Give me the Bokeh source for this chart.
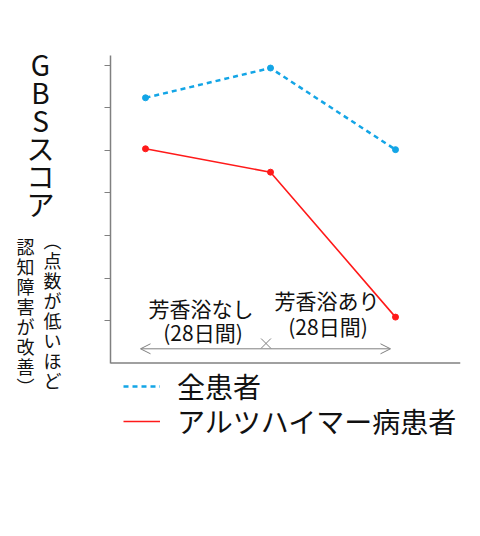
from bokeh.plotting import figure
from bokeh.layouts import row
from bokeh.models import Range1d, FixedTicker, Label, Arrow, OpenHead, Legend, LegendItem, Span
from bokeh.core.properties import value
from bokeh.embed import file_html
from bokeh.resources import INLINE

# data
stages = [0, 1, 2]
all_patients = [6.24, 6.94, 5.02]
alzheimer = [5.04, 4.49, 1.08]
series_names = ["全患者", "アルツハイマー病患者"]
y_title = "GBSスコア"
y_note_right = "︵点数が低いほど"
y_note_left = "認知障害が改善︶"
period_labels = ["芳香浴なし", "芳香浴あり"]
period_days = ["(28日間)", "(28日間)"]

FONT = "Noto Sans CJK JP"
BLUE = "#13a5e6"
RED = "#ff1a1a"
GRAY = "#808080"
INK = "#111111"

TOP = 40  # both frames start here so the row keeps them aligned

# left strip holding the upright, stacked y-axis title (1 unit = 1 px, y down)
t = figure(frame_width=100, frame_height=536 - TOP, min_border=0, min_border_top=TOP,
           title=None, x_range=Range1d(0, 100), y_range=Range1d(536, TOP),
           x_axis_location=None, y_axis_location=None,
           output_backend="svg", toolbar_location=None, tools="")
t.outline_line_color = None
t.grid.grid_line_color = None


def column_text(chars, cx, top, pitch, size):
    t.text([cx] * len(chars), [top + pitch * k for k in range(len(chars))], text=list(chars),
           text_font=value(FONT), text_font_size=size, text_align="center",
           text_baseline="middle", text_color=INK)


column_text(y_title, 40, 63, 28, "28px")
column_text(y_note_right, 52, 239, 20, "18px")
column_text(y_note_left, 25, 245, 20, "18px")

# main chart; the frame runs down to the page bottom so the legend fits inside it
p = figure(frame_width=350, frame_height=536 - TOP, title=None,
           min_border_left=10, min_border_right=20,
           min_border_top=TOP, min_border_bottom=0,
           x_range=Range1d(-0.28, 2.52), y_range=Range1d(-4.082, 7.588),
           x_axis_location=None,
           output_backend="svg", toolbar_location=None, tools="")
p.outline_line_color = None
p.grid.grid_line_color = None

# y axis: bare line from 0 up, ticks outside, no labels
p.yaxis.bounds = (0, 7.235)
p.yaxis.ticker = FixedTicker(ticks=[1, 2, 3, 4, 5, 6, 7])
p.yaxis.major_label_text_font_size = "0px"
p.yaxis.major_tick_in = 0
p.yaxis.major_tick_out = 6
p.yaxis.minor_tick_line_color = None
p.yaxis.axis_line_color = GRAY
p.yaxis.axis_line_width = 1.5
p.yaxis.major_tick_line_color = GRAY

# baseline at zero
p.add_layout(Span(location=0, dimension="width", line_color=GRAY, line_width=1.5))

# series
r_all = p.line(stages, all_patients, line_color=BLUE, line_width=2.5, line_dash="5 4")
p.scatter(stages, all_patients, size=6, color=BLUE)
r_alz = p.line(stages, alzheimer, line_color=RED, line_width=1.6)
p.scatter(stages, alzheimer, size=6, color=RED)

# one legend per series so each row sits where the reference has it
for r, name, vy in [(r_all, series_names[0], 130), (r_alz, series_names[1], 95)]:
    p.add_layout(Legend(items=[LegendItem(label=name, renderers=[r])],
                        location=(13, vy), glyph_width=37, glyph_height=20, label_height=20,
                        label_standoff=17, padding=0, margin=0,
                        label_text_font=FONT, label_text_font_size="28px",
                        label_text_color=INK,
                        border_line_color=None, background_fill_alpha=0), "center")

# period arrow with the cross at the change point
p.add_layout(Arrow(start=OpenHead(size=10, line_color=GRAY, line_width=1),
                   end=OpenHead(size=10, line_color=GRAY, line_width=1),
                   x_start=-0.04, y_start=0.334, x_end=1.96, y_end=0.334,
                   line_color=GRAY, line_width=1))
p.scatter([0.964], [0.46], marker="x", size=14, line_color=GRAY, line_width=1)

name_pos = [(0.444, 1.29), (1.452, 1.494)]
days_pos = [(0.46, 0.74), (1.46, 0.86)]
for i in range(2):
    p.add_layout(Label(x=name_pos[i][0], y=name_pos[i][1], text=period_labels[i],
                       text_font=FONT, text_font_size="21px", text_align="center",
                       text_baseline="middle", text_color=INK))
    p.add_layout(Label(x=days_pos[i][0], y=days_pos[i][1], text=period_days[i],
                       text_font=FONT, text_font_size="21px", text_align="center",
                       text_baseline="middle", text_color=INK))

layout = row(t, p)
open("out.html", "w").write(file_html(layout, INLINE))
